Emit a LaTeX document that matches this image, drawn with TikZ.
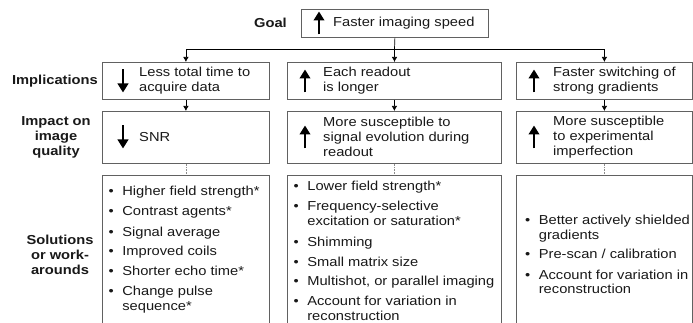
\documentclass[tikz,border=0pt]{standalone}
\usepackage{fontspec}
\setmainfont[FakeStretch=1.13]{Liberation Sans}
\usetikzlibrary{arrows.meta}
\begin{document}
\begin{tikzpicture}[x=1pt,y=-1pt,
  every node/.style={inner sep=0pt, font=\fontsize{13}{15}\selectfont, text=black!90},
  box/.style={draw=black!62, line width=0.8pt, rectangle, anchor=north west},
  lab/.style={font=\fontsize{13}{15}\selectfont\bfseries, align=center},
  txt/.style={anchor=west, align=left},
  list/.style={anchor=base west},
  conn/.style={line width=0.7pt, -{Latex[length=5pt,width=5.5pt]}},
  plain/.style={line width=0.7pt},
  dots/.style={draw=black!45, line width=0.6pt, densely dotted},
  bigup/.pic={\draw[line width=2.9pt,-{Triangle[length=9pt,width=10.5pt]}] (0,11.5) -- (0,-11.5);},
  bigdown/.pic={\draw[line width=2.9pt,-{Triangle[length=9pt,width=10.5pt]}] (0,-11.5) -- (0,11.5);},
]
\useasboundingbox (0,0) rectangle (693,323);
\fill[white] (0,0) rectangle (693,323);
\clip (0,0) rectangle (693,323);

% boxes
\node[box, minimum width=187pt, minimum height=28pt] (goal) at (301,9) {};
\node[box, minimum width=167pt, minimum height=37pt] (imp1) at (102,62) {};
\node[box, minimum width=214pt, minimum height=37pt] (imp2) at (287,62) {};
\node[box, minimum width=176pt, minimum height=37pt] (imp3) at (516,62) {};
\node[box, minimum width=167pt, minimum height=52pt] (qual1) at (102,111) {};
\node[box, minimum width=214pt, minimum height=52pt] (qual2) at (287,111) {};
\node[box, minimum width=176pt, minimum height=52pt] (qual3) at (516,111) {};
\node[box, minimum width=167pt, minimum height=170pt] (sol1) at (102,175) {};
\node[box, minimum width=214pt, minimum height=170pt] (sol2) at (287,175) {};
\node[box, minimum width=176pt, minimum height=170pt] (sol3) at (516,175) {};

% row labels
\node[lab, anchor=east] (lgoal) at (287,23) {Goal};
\node[lab, anchor=east] (limp) at (98,81) {Implications};
\node[lab] (lqual) at (56,137) {Impact on\\image\\quality};
\node[lab] (lsol) at (60,255) {Solutions\\or work-\\arounds};

% big arrows
\pic (agoal) at (319,23) {bigup};
\pic (aimp1) at (123,81) {bigdown};
\pic (aimp2) at (305,81) {bigup};
\pic (aimp3) at (534,81) {bigup};
\pic (aqual1) at (123,137) {bigdown};
\pic (aqual2) at (305,137) {bigup};
\pic (aqual3) at (534,137) {bigup};

% box texts
\node[txt] (tgoal) at (333,23) {Faster imaging speed};
\node[txt] (timp1) at (139,81) {Less total time to\\acquire data};
\node[txt] (timp2) at (323,81) {Each readout\\is longer};
\node[txt] (timp3) at (553,81) {Faster switching of\\strong gradients};
\node[txt] (tqual1) at (139,137) {SNR};
\node[txt] (tqual2) at (323,137) {More susceptible to\\signal evolution during\\readout};
\node[txt] (tqual3) at (553,137) {More susceptible\\to experimental\\imperfection};

% lists
\node[list] (tsol1) at (108.5,196) {\begin{tabular}[t]{@{}l@{\hspace{8.5pt}}l@{}}
•&Higher field strength*\\[5pt]
•&Contrast agents*\\[5pt]
•&Signal average\\[5pt]
•&Improved coils\\[5pt]
•&Shorter echo time*\\[5pt]
•&Change pulse\\
&sequence*
\end{tabular}};
\node[list] (tsol2) at (293.5,191) {\begin{tabular}[t]{@{}l@{\hspace{8.5pt}}l@{}}
•&Lower field strength*\\[5pt]
•&Frequency-selective\\
&excitation or saturation*\\[5pt]
•&Shimming\\[5pt]
•&Small matrix size\\[5pt]
•&Multishot, or parallel imaging\\[5pt]
•&Account for variation in\\
&reconstruction
\end{tabular}};
\node[list] (tsol3) at (525,224) {\begin{tabular}[t]{@{}l@{\hspace{8.5pt}}l@{}}
•&Better actively shielded\\
&gradients\\[5pt]
•&Pre-scan / calibration\\[5pt]
•&Account for variation in\\
&reconstruction
\end{tabular}};

% connectors
\coordinate (split) at (394.5,49);
\draw[plain] (goal.south) -- (split);
\draw[conn] (split) -- (split |- imp2.north);
\draw[conn] (split) -| (imp1.north);
\draw[conn] (split) -| (imp3.north);
\draw[conn] (imp1.south) -- (qual1.north);
\draw[conn] (imp2.south) -- (qual2.north);
\draw[conn] (imp3.south) -- (qual3.north);
\draw[dots] (qual1.south) -- (sol1.north);
\draw[dots] (qual2.south) -- (sol2.north);
\draw[dots] (qual3.south) -- (sol3.north);
\end{tikzpicture}
\end{document}
